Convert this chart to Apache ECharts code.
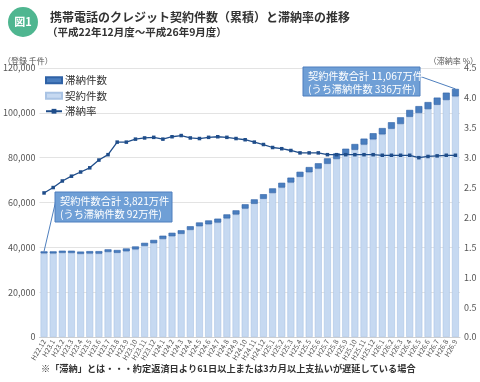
<!DOCTYPE html>
<html><head><meta charset="utf-8">
<script src="https://cdn.jsdelivr.net/npm/echarts@6/dist/echarts.min.js"></script>
<style>html,body{margin:0;padding:0;background:#fff}#c{width:480px;height:382px}</style>
</head><body><div id="c"></div>
<script>
const categories = ['H22.12','H23.1','H23.2','H23.3','H23.4','H23.5','H23.6','H23.7','H23.8','H23.9','H23.10','H23.11','H23.12',
'H24.1','H24.2','H24.3','H24.4','H24.5','H24.6','H24.7','H24.8','H24.9','H24.10','H24.11','H24.12',
'H25.1','H25.2','H25.3','H25.4','H25.5','H25.6','H25.7','H25.8','H25.9','H25.10','H25.11','H25.12',
'H26.1','H26.2','H26.3','H26.4','H26.5','H26.6','H26.7','H26.8','H26.9'];
// 契約件数 (non-delinquent part, 千件)
const contracts = [37290,37250,37500,37460,37050,37220,37170,37910,37540,38210,39060,40600,41850,
43700,44940,46000,47760,49400,50260,51030,52870,54620,57250,59400,61650,
64200,66630,68880,71430,73470,75110,77270,79400,81440,83470,85800,88130,
90370,92890,95020,98220,99910,101640,103560,105690,107310];
// 滞納件数 (千件)
const delinquent = [920,955,1005,1036,1052,1084,1134,1193,1265,1288,1337,1399,1446,
1496,1558,1604,1645,1697,1737,1769,1827,1876,1954,2002,2051,
2102,2167,2218,2270,2335,2387,2431,2498,2562,2626,2699,2772,
2833,2912,2979,3080,3090,3165,3236,3314,3360];
// 滞納率 (%)
const rates = [2.41,2.50,2.61,2.69,2.76,2.83,2.96,3.05,3.26,3.26,3.31,3.33,3.34,
3.31,3.35,3.37,3.33,3.32,3.34,3.35,3.34,3.32,3.30,3.26,3.22,
3.17,3.15,3.12,3.08,3.08,3.08,3.05,3.05,3.05,3.05,3.05,3.05,
3.04,3.04,3.04,3.04,3.00,3.02,3.03,3.04,3.04];
const leftTicks = [0,20000,40000,60000,80000,100000,120000];
const rightTicks = [0,0.5,1.0,1.5,2.0,2.5,3.0,3.5,4.0,4.5];
const note1 = ['契約件数合計 3,821万件','(うち滞納件数 92万件)'];
const note2 = ['契約件数合計 11,067万件','(うち滞納件数 336万件)'];

const FONT = '"Noto Sans CJK JP","Noto Sans",sans-serif';
const chart = echarts.init(document.getElementById('c'), null, {renderer:'canvas'});
const option = {
  backgroundColor:'#fff',
  textStyle:{fontFamily:FONT},
  animation:false,
  grid:{left:37,right:20,top:68,bottom:45},
  legend:{
    orient:'vertical', left:40, top:70, itemGap:5, itemWidth:16, itemHeight:6,
    data:[{name:'滞納件数',icon:'rect'},{name:'契約件数',icon:'rect'},{name:'滞納率'}],
    textStyle:{fontSize:10.5,color:'#333',fontFamily:FONT,padding:[0,0,0,-2]}
  },
  xAxis:{
    type:'category', data:categories,
    axisTick:{show:false},
    axisLine:{show:true,lineStyle:{color:'#d0d0d0'}},
    axisLabel:{interval:0, rotate:60, fontSize:7, color:'#555', margin:3}
  },
  yAxis:[
    {type:'value', min:leftTicks[0], max:leftTicks[leftTicks.length-1], interval:20000,
     axisLine:{show:false}, axisTick:{show:false},
     splitLine:{lineStyle:{color:'#e3e3e3'}},
     axisLabel:{fontSize:9,color:'#555',margin:4,formatter:v=>v.toLocaleString('en-US')}},
    {type:'value', min:rightTicks[0], max:rightTicks[rightTicks.length-1], interval:0.5,
     axisLine:{show:false}, axisTick:{show:false}, splitLine:{show:false},
     axisLabel:{fontSize:9,color:'#555',margin:4,formatter:v=>v.toFixed(1)}}
  ],
  series:[
    {name:'契約件数', type:'bar', stack:'s', data:contracts, barCategoryGap:'24%',
     itemStyle:{color:'#c6d9f1',borderColor:'#a9c3e4',borderWidth:0.6}},
    {name:'滞納件数', type:'bar', stack:'s', data:delinquent,
     itemStyle:{color:'#4a7ebf',borderColor:'#2f62a6',borderWidth:0.6}},
    {name:'滞納率', type:'line', yAxisIndex:1, data:rates, symbol:'rect', symbolSize:3.5,
     lineStyle:{color:'#1f4d8a',width:1.3}, itemStyle:{color:'#1f4d8a'}, z:5}
  ]
};
chart.setOption(option);

const first = chart.convertToPixel({seriesIndex:0},[0, contracts[0]+delinquent[0]]);
const n = categories.length-1;
const last = chart.convertToPixel({seriesIndex:0},[n, contracts[n]+delinquent[n]]);

function box(x,y,w,h,lines){
  return {type:'group', x:x, y:y, children:[
    {type:'rect', shape:{x:0,y:0,width:w,height:h}, style:{fill:'#6f9fd6',stroke:'#4f7fbe',lineWidth:1}},
    {type:'text', x:5, y:2, style:{text:lines.join('\n'), fill:'#fff', font:'10.2px '+FONT, lineHeight:13.5}}
  ]};
}
chart.setOption({graphic:[
  {type:'circle', shape:{cx:23,cy:22,r:15}, style:{fill:'#4fb690'}},
  {type:'text', x:23, y:22, style:{text:'図1', fill:'#fff', font:'bold 11px '+FONT, align:'center', verticalAlign:'middle'}},
  {type:'text', x:50, y:11, style:{text:'携帯電話のクレジット契約件数（累積）と滞納率の推移', fill:'#333', font:'bold 12px '+FONT}},
  {type:'text', x:47, y:27, style:{text:'（平成22年12月度～平成26年9月度）', fill:'#333', font:'bold 10.5px '+FONT}},
  {type:'text', x:3, y:57, style:{text:'（登録 千件）', fill:'#555', font:'8px '+FONT}},
  {type:'text', x:478, y:57, style:{text:'（滞納率 %）', fill:'#555', font:'8px '+FONT, align:'right'}},
  {type:'line', shape:{x1:first[0],y1:first[1],x2:56,y2:200}, style:{stroke:'#4f7fbe',lineWidth:1}},
  {type:'line', shape:{x1:last[0],y1:last[1],x2:419,y2:76}, style:{stroke:'#4f7fbe',lineWidth:1}},
  box(55,192,117,30,note1),
  box(303,67,117,29,note2),
  {type:'text', x:41, y:364, style:{text:'※「滞納」とは・・・約定返済日より61日以上または3カ月以上支払いが遅延している場合', fill:'#333', font:'bold 9.2px '+FONT}}
]});
</script>
</body></html>
